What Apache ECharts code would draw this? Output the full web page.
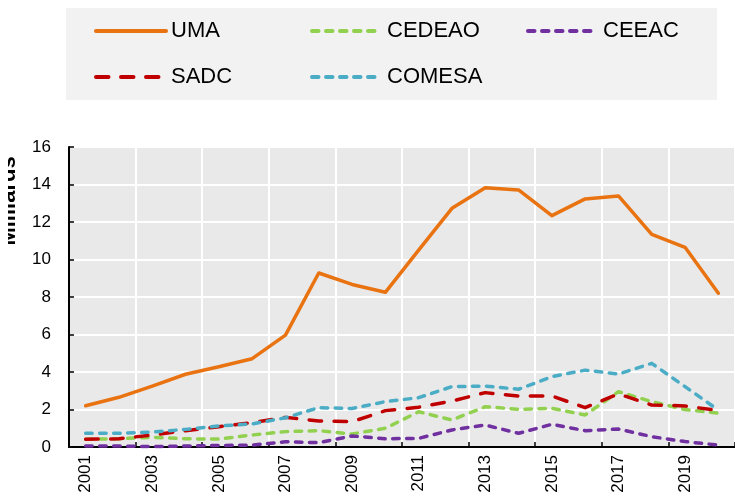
<!DOCTYPE html>
<html>
<head>
<meta charset="utf-8">
<script src="https://cdn.jsdelivr.net/npm/echarts@6/dist/echarts.min.js"></script>
<style>html,body{margin:0;padding:0;background:#fff}#c{width:735px;height:496px}</style>
</head>
<body>
<div id="c"></div>
<script>
const years = ['2001','2002','2003','2004','2005','2006','2007','2008','2009','2010','2011','2012','2013','2014','2015','2016','2017','2018','2019','2020'];
const yTicks = [0, 16, 2];
const uma    = [2.2,2.65,3.25,3.88,4.28,4.71,5.97,9.28,8.67,8.25,10.5,12.73,13.83,13.71,12.34,13.23,13.39,11.34,10.65,8.2];
const cedeao = [0.42,0.44,0.52,0.44,0.42,0.64,0.82,0.87,0.69,1.0,1.88,1.44,2.15,2.01,2.06,1.71,2.95,2.42,2.0,1.8];
const ceeac  = [0.05,0.05,0.02,0.05,0.08,0.1,0.28,0.23,0.59,0.44,0.46,0.91,1.17,0.73,1.21,0.87,0.96,0.55,0.29,0.1];
const sadc   = [0.41,0.44,0.64,0.87,1.08,1.3,1.58,1.39,1.35,1.94,2.12,2.45,2.9,2.72,2.72,2.1,2.83,2.24,2.19,1.94];
const comesa = [0.73,0.73,0.8,0.94,1.12,1.23,1.56,2.1,2.05,2.42,2.63,3.22,3.25,3.08,3.75,4.1,3.89,4.46,3.22,1.97];
const yName = 'Milliards';

const FONT = 'Liberation Sans, Arial, sans-serif';
const shortDash = [6.5, 7.5];
const longDash = [12.5, 12.5];

function mk(name, data, color, dash) {
  return {
    name: name, type: 'line', data: data, symbol: 'none', silent: true,
    lineStyle: { color: color, width: 3.5, type: dash || 'solid', cap: 'round', join: 'round' },
    itemStyle: { color: color }
  };
}
function lg(name, left, top) {
  return {
    data: [name], left: left, top: top, padding: 0, itemWidth: 70, itemHeight: 14,
    itemStyle: { opacity: 0, borderWidth: 0 },
    lineStyle: { width: 4, cap: 'round' },
    textStyle: { fontFamily: FONT, fontSize: 22, color: '#000' }, selectedMode: false
  };
}

const chart = echarts.init(document.getElementById('c'), null, { renderer: 'canvas' });
chart.setOption({
  animation: false,
  backgroundColor: '#fff',
  graphic: [
    { type: 'rect', shape: { x: 66, y: 8, width: 651, height: 92 }, style: { fill: '#f2f2f2' }, z: -10 },
    { type: 'text', x: 20, y: 201, rotation: Math.PI / 2,
      style: { text: yName, font: 'bold 22px ' + FONT, fill: '#000', textAlign: 'center', textVerticalAlign: 'bottom' }, z: 10 },
    { type: 'rect', shape: { x: 0, y: 130, width: 8, height: 140 }, style: { fill: '#fff' }, z: 100 }
  ],
  legend: [
    lg('UMA', 94, 20), lg('CEDEAO', 310, 20), lg('CEEAC', 526, 20),
    lg('SADC', 94, 66), lg('COMESA', 310, 66)
  ],
  grid: { left: 69, top: 147, height: 300, right: -10, show: true, backgroundColor: '#e9e9e9', borderWidth: 0 },
  xAxis: {
    type: 'category', data: years, boundaryGap: true,
    axisLine: { show: true, lineStyle: { color: '#000', width: 2 } },
    axisTick: { show: true, inside: true, length: 5, interval: 1, lineStyle: { color: '#000', width: 1.5 } },
    axisLabel: { interval: 1, rotate: 90, margin: 8, fontFamily: FONT, fontSize: 17, color: '#000' },
    splitLine: { show: true, interval: 1, lineStyle: { color: '#fff', width: 2 } }
  },
  yAxis: {
    type: 'value', min: yTicks[0], max: yTicks[1], interval: yTicks[2],
    axisLine: { show: true, lineStyle: { color: '#000', width: 2 } },
    axisTick: { show: true, inside: true, length: 5, lineStyle: { color: '#000', width: 1.5 } },
    axisLabel: { margin: 18, fontFamily: FONT, fontSize: 17, color: '#000' },
    splitLine: { show: true, lineStyle: { color: '#fff', width: 2 } }
  },
  series: [
    mk('UMA', uma, '#E97311'),
    mk('CEDEAO', cedeao, '#92D050', shortDash),
    mk('CEEAC', ceeac, '#7030A0', shortDash),
    mk('SADC', sadc, '#C00000', longDash),
    mk('COMESA', comesa, '#4BACC6', shortDash)
  ]
});
</script>
</body>
</html>
